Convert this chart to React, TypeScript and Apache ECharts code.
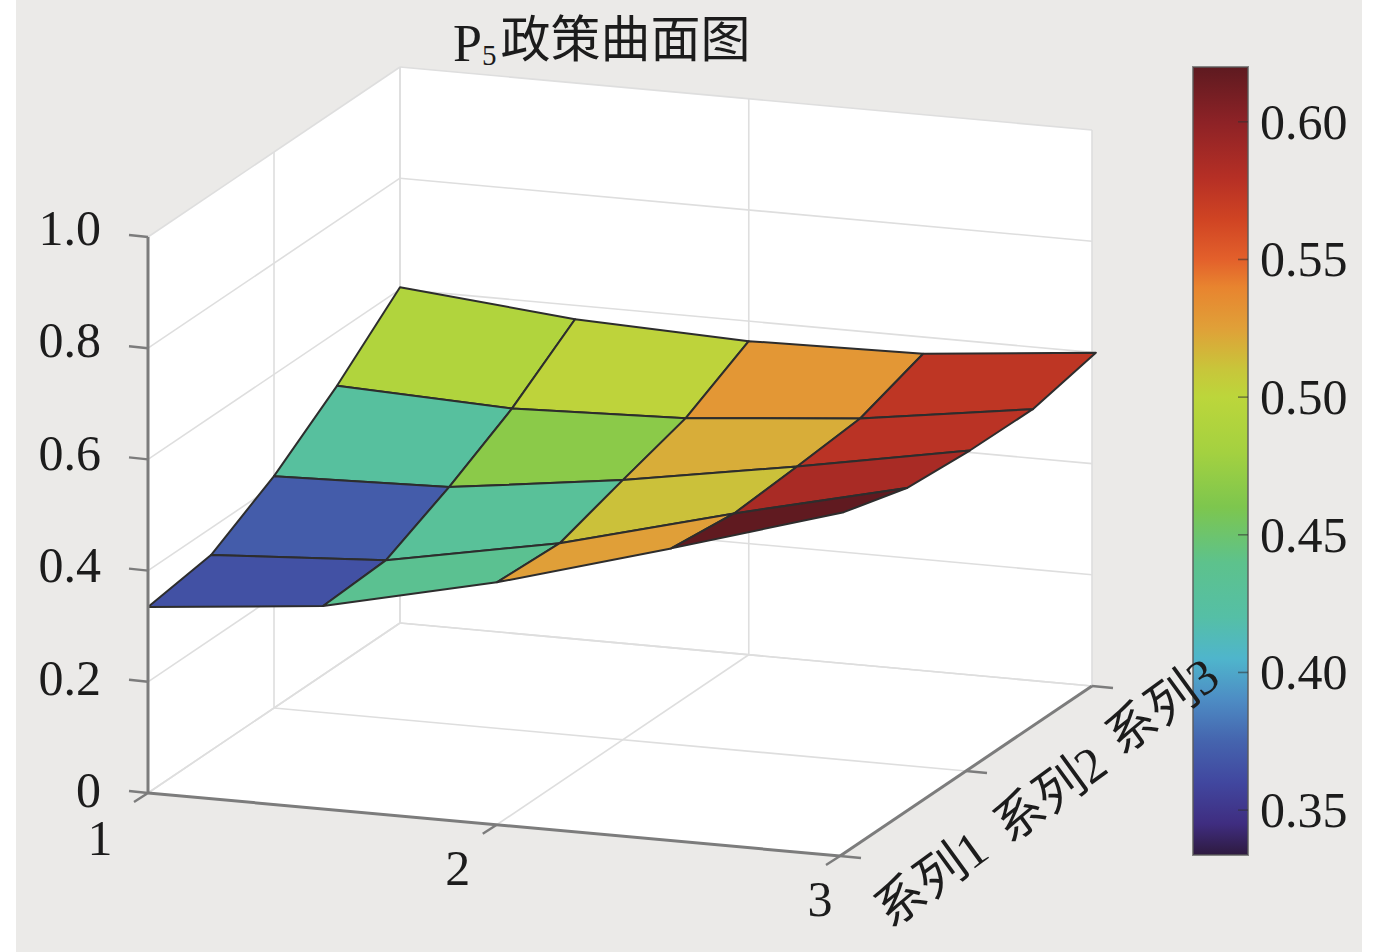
import React, { useEffect, useRef } from "react";
import * as echarts from "echarts";

const W = 1378;
const H = 952;

// Values
const xGrid = [1, 1.506, 2.008, 2.512, 3.011];
const yGrid = [1, 1.5, 2, 2.5, 3];
const zAtY1 = [0.3345, 0.365, 0.436, 0.5256, 0.619];
const zAtY15 = [0.3516, 0.371, 0.43, 0.512, 0.586];
const zAtY2 = [0.417, 0.426, 0.467, 0.52, 0.577];
const zAtY25 = [0.503, 0.491, 0.502, 0.53, 0.575];
const zAtY3 = [0.604, 0.575, 0.564, 0.57, 0.6];
const surfaceRows = [zAtY1, zAtY15, zAtY2, zAtY25, zAtY3];

const xTicks = [1, 2.008, 3];
const xTickLabels = ["1", "2", "3"];
const yTicks = [1, 2, 3];
const yTickLabels = ["系列1", "系列2", "系列3"];
const zTicks = [0, 0.2, 0.4, 0.6, 0.8, 1.0];
const zTickLabels = ["0", "0.2", "0.4", "0.6", "0.8", "1.0"];
const colorTicks = [0.35, 0.4, 0.45, 0.5, 0.55, 0.6];
const colorMin = 0.3337;
const colorMax = 0.6199;
const colorStopValues = [0.3337, 0.345, 0.36, 0.375, 0.39, 0.405, 0.42, 0.44, 0.46, 0.48, 0.5, 0.51, 0.525, 0.54, 0.55, 0.565, 0.58, 0.6, 0.6199];
const colorStopColors = ["#2e1a3f", "#3f2d80", "#41479f", "#4564ae", "#4d8cc4", "#4fb5cc", "#55bfa6", "#5dc28c", "#7dc64e", "#a4d140", "#bcd63b", "#c8c63a", "#e0a038", "#e8842f", "#e3602b", "#cf4323", "#b52f25", "#8d2226", "#5e1a20"];
const titleText = "{p|P}{s|5}{h|政策曲面图}";

// Layout of the orthographic view (pixel space)
const ORIGIN = [148, 793];
const UX = [692, 63];
const VX = [252, -170];
const ZH = 556;
const project = (x: number, y: number, z: number) => {
  const u = (x - 1) / 2;
  const v = (y - 1) / 2;
  return [ORIGIN[0] + UX[0] * u + VX[0] * v, ORIGIN[1] + UX[1] * u + VX[1] * v - ZH * z];
};
const xLabelOffsets = [[-48, 45], [-39, 43], [-20, 43]];
const yLabelOffsets = [[91, 23], [84, 23], [70, 20]];

const SERIF = '"Liberation Serif", "Noto Sans CJK SC", serif';
const TEXT = "#1c1c1c";
const LIGHT = "#dedede";
const AXIS = "#7c7c7c";

const colorOf = (val: number) => {
  const vs = colorStopValues;
  if (val <= vs[0]) return colorStopColors[0];
  for (let i = 1; i < vs.length; i++) {
    if (val <= vs[i]) {
      const t = (val - vs[i - 1]) / (vs[i] - vs[i - 1]);
      return echarts.color.lerp(t, [colorStopColors[i - 1], colorStopColors[i]]);
    }
  }
  return colorStopColors[colorStopColors.length - 1];
};

const walls = [
  [[1, 1, 0], [1, 3, 0], [3, 3, 0], [3, 1, 0]],
  [[1, 1, 0], [1, 1, 1], [1, 3, 1], [1, 3, 0]],
  [[1, 3, 0], [1, 3, 1], [3, 3, 1], [3, 3, 0]],
];

const seg = (a: number[], b: number[]) => [...a, ...b];
const gridSegments: number[][] = [];
zTicks.forEach((z) => {
  gridSegments.push(seg([1, 1, z], [1, 3, z]));
  gridSegments.push(seg([1, 3, z], [3, 3, z]));
});
xTicks.forEach((x) => {
  gridSegments.push(seg([x, 3, 0], [x, 3, 1]));
  gridSegments.push(seg([x, 1, 0], [x, 3, 0]));
});
yTicks.forEach((y) => {
  gridSegments.push(seg([1, y, 0], [1, y, 1]));
  gridSegments.push(seg([1, y, 0], [3, y, 0]));
});

const axisSegments = [
  seg([1, 1, 0], [1, 1, 1]),
  seg([1, 1, 0], [3, 1, 0]),
  seg([3, 1, 0], [3, 3, 0]),
];

const cells: number[][] = [];
for (let j = yGrid.length - 2; j >= 0; j--) {
  for (let i = 0; i < xGrid.length - 1; i++) cells.push([i, j]);
}

const idx = (a: any[]) => a.map((_, i) => i);

function buildOption(): any {
  const lineItem = (color: string, width: number) => (_: any, api: any) => {
    const s = [api.value(0), api.value(1), api.value(2), api.value(3), api.value(4), api.value(5)];
    const a = api.coord(project(s[0], s[1], s[2]));
    const b = api.coord(project(s[3], s[4], s[5]));
    return {
      type: "line",
      shape: { x1: a[0], y1: a[1], x2: b[0], y2: b[1] },
      style: { stroke: color, lineWidth: width },
      silent: true,
    };
  };
  const base = { type: "custom", xAxisIndex: 0, yAxisIndex: 0, silent: true, clip: false };
  const tickSeg = (a: number[], dx: number, dy: number) => {
    const p = project(a[0], a[1], a[2]);
    return [p[0], p[1], p[0] + dx, p[1] + dy];
  };
  const tickLines = [
    ...zTicks.map((z) => tickSeg([1, 1, z], -19, -2)),
    ...xTicks.map((x) => tickSeg([x, 1, 0], -14, 9)),
    ...yTicks.map((y) => tickSeg([3, y, 0], 21, 2)),
  ];

  return {
    animation: false,
    backgroundColor: "#ffffff",
    title: {
      text: titleText,
      left: 453,
      top: 4,
      padding: 0,
      textStyle: {
        fontWeight: "normal",
        rich: {
          p: { fontFamily: SERIF, fontSize: 52, fontWeight: "normal", color: TEXT, verticalAlign: "bottom" },
          s: { fontFamily: SERIF, fontSize: 29, fontWeight: "normal", color: TEXT, verticalAlign: "bottom", padding: [36, 0, 0, 0] },
          h: { fontFamily: SERIF, fontSize: 50, fontWeight: "normal", color: TEXT, verticalAlign: "bottom", padding: [0, 0, 4, 4] },
        },
      },
    },
    graphic: [
      { type: "rect", z: -10, silent: true, shape: { x: 16, y: 0, width: 1346, height: H }, style: { fill: "#ebeae8" } },
    ],
    grid: [
      { left: 0, top: 0, width: W, height: H, containLabel: false },
      { left: 1193, top: 67, width: 55, height: 788, containLabel: false },
    ],
    xAxis: [
      { type: "value", min: 0, max: W, show: false, gridIndex: 0 },
      { type: "value", min: 0, max: 1, show: false, gridIndex: 1 },
    ],
    yAxis: [
      { type: "value", min: 0, max: H, inverse: true, show: false, gridIndex: 0 },
      {
        type: "value",
        gridIndex: 1,
        min: colorMin,
        max: colorMax,
        position: "right",
        splitLine: { show: false },
        axisLine: { show: false },
        axisTick: { show: false },
        axisLabel: {
          show: true,
          margin: 12,
          customValues: colorTicks,
          formatter: (v: number) => v.toFixed(2),
          fontFamily: SERIF,
          fontSize: 50,
          color: TEXT,
        },
        z: 4,
      },
    ],
    series: [
      {
        ...base,
        z: 1,
        data: idx(walls).map((i) => [i]),
        renderItem: (_: any, api: any) => ({
          type: "polygon",
          shape: { points: walls[api.value(0)].map((c) => api.coord(project(c[0], c[1], c[2]))) },
          style: { fill: "#ffffff" },
        }),
      },
      { ...base, z: 2, data: gridSegments, renderItem: lineItem(LIGHT, 1.6) },
      {
        ...base,
        z: 3,
        data: cells,
        renderItem: (_: any, api: any) => {
          const i = api.value(0);
          const j = api.value(1);
          const corner = (a: number, b: number) => api.coord(project(xGrid[a], yGrid[b], surfaceRows[b][a]));
          return {
            type: "polygon",
            shape: { points: [corner(i, j), corner(i + 1, j), corner(i + 1, j + 1), corner(i, j + 1)] },
            style: { fill: colorOf(surfaceRows[j][i + 1]), stroke: "#2d2d2d", lineWidth: 2, lineJoin: "round" },
          };
        },
      },
      { ...base, z: 4, data: axisSegments, renderItem: lineItem(AXIS, 3) },
      {
        ...base,
        z: 4,
        data: tickLines,
        renderItem: (_: any, api: any) => {
          const a = api.coord([api.value(0), api.value(1)]);
          const b = api.coord([api.value(2), api.value(3)]);
          return { type: "line", shape: { x1: a[0], y1: a[1], x2: b[0], y2: b[1] }, style: { stroke: AXIS, lineWidth: 2.4 } };
        },
      },
      {
        type: "custom",
        xAxisIndex: 1,
        yAxisIndex: 1,
        silent: true,
        z: 3,
        data: [[0, colorMin, 1, colorMax]],
        renderItem: (_: any, api: any) => {
          const a = api.coord([api.value(0), api.value(3)]);
          const b = api.coord([api.value(2), api.value(1)]);
          const stops = colorStopValues.map((v, i) => ({
            offset: (colorMax - v) / (colorMax - colorMin),
            color: colorStopColors[i],
          }));
          stops.sort((p, q) => p.offset - q.offset);
          return {
            type: "rect",
            shape: { x: a[0], y: a[1], width: b[0] - a[0], height: b[1] - a[1] },
            style: {
              fill: new echarts.graphic.LinearGradient(0, 0, 0, 1, stops),
              stroke: "rgba(90,90,90,0.7)",
              lineWidth: 2,
            },
          };
        },
      },
      {
        type: "custom",
        xAxisIndex: 1,
        yAxisIndex: 1,
        silent: true,
        z: 4,
        data: colorTicks.map((v) => [1, v]),
        renderItem: (_: any, api: any) => {
          const a = api.coord([api.value(0), api.value(1)]);
          return {
            type: "line",
            shape: { x1: a[0] - 10, y1: a[1], x2: a[0], y2: a[1] },
            style: { stroke: "rgba(50,50,50,0.55)", lineWidth: 1.6 },
          };
        },
      },
      {
        ...base,
        z: 6,
        data: idx(zTicks).map((i) => [i]),
        renderItem: (_: any, api: any) => {
          const i = api.value(0);
          const p = api.coord(project(1, 1, zTicks[i]));
          return {
            type: "text",
            style: { text: zTickLabels[i], x: p[0] - 47, y: p[1] - 3 - 6 * zTicks[i], align: "right", verticalAlign: "middle", fontFamily: SERIF, fontSize: 50, fill: TEXT },
          };
        },
      },
      {
        ...base,
        z: 6,
        data: idx(xTicks).map((i) => [i]),
        renderItem: (_: any, api: any) => {
          const i = api.value(0);
          const p = api.coord(project(xTicks[i], 1, 0));
          return {
            type: "text",
            style: { text: xTickLabels[i], x: p[0] + xLabelOffsets[i][0], y: p[1] + xLabelOffsets[i][1], align: "center", verticalAlign: "middle", fontFamily: SERIF, fontSize: 50, fill: TEXT },
          };
        },
      },
      {
        ...base,
        z: 6,
        data: idx(yTicks).map((i) => [i]),
        renderItem: (_: any, api: any) => {
          const i = api.value(0);
          const p = api.coord(project(3, yTicks[i], 0));
          return {
            type: "text",
            x: p[0] + yLabelOffsets[i][0],
            y: p[1] + yLabelOffsets[i][1],
            rotation: (36 * Math.PI) / 180,
            style: { text: yTickLabels[i], x: 0, y: 0, align: "center", verticalAlign: "middle", fontFamily: SERIF, fontSize: 50, fill: TEXT },
          };
        },
      },
    ],
  };
}

export default function App() {
  const ref = useRef<HTMLDivElement>(null);
  useEffect(() => {
    if (!ref.current) return;
    const chart = echarts.init(ref.current, undefined, { renderer: "svg" });
    chart.setOption(buildOption());
    return () => chart.dispose();
  }, []);
  return <div ref={ref} style={{ position: "absolute", left: 0, top: 0, width: W, height: H }} />;
}
